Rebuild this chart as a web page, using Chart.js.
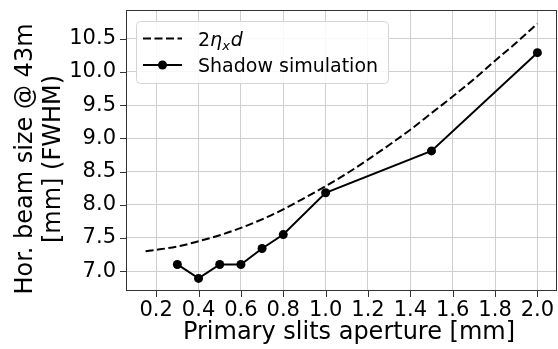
<!DOCTYPE html>
<html>
<head>
<meta charset="utf-8">
<script src="https://cdn.jsdelivr.net/npm/chart.js@4.4.1/dist/chart.umd.min.js"></script>
<style>
html,body{margin:0;padding:0;background:#fff;}
#wrap{width:558px;height:349px;position:relative;}
</style>
</head>
<body>
<div id="wrap"><canvas id="c" width="558" height="349"></canvas></div>
<script>
// ---- data ----
const theoryX = [0.15, 0.2, 0.3, 0.4, 0.5, 0.6, 0.7, 0.8, 0.9, 1.0, 1.1, 1.2, 1.3, 1.4, 1.5, 1.6, 1.7, 1.8, 1.9, 2.0];
const theoryY = [7.30, 7.32, 7.37, 7.45, 7.54, 7.65, 7.78, 7.93, 8.10, 8.28, 8.47, 8.68, 8.90, 9.13, 9.38, 9.63, 9.89, 10.17, 10.44, 10.73];
const simX = [0.3, 0.4, 0.5, 0.6, 0.7, 0.8, 1.0, 1.5, 2.0];
const simY = [7.10, 6.89, 7.10, 7.10, 7.34, 7.55, 8.18, 8.81, 10.29];
const xTicks = [0.2, 0.4, 0.6, 0.8, 1.0, 1.2, 1.4, 1.6, 1.8, 2.0];
const yTicks = [7.0, 7.5, 8.0, 8.5, 9.0, 9.5, 10.0, 10.5];
const seriesNames = ["2ηxd", "Shadow simulation"];
const xTitle = "Primary slits aperture [mm]";
const yTitle = ["Hor. beam size @ 43m", "[mm] (FWHM)"];

const FONT = "'DejaVu Sans', sans-serif";
const TICK_SIZE = 21;
const TITLE_SIZE = 24;

const frame = {
  id: 'frame',
  afterDatasetsDraw(chart) {
    const ctx = chart.ctx, a = chart.chartArea;
    const xs = chart.scales.x, ys = chart.scales.y;
    ctx.save();
    // spines
    ctx.strokeStyle = '#333';
    ctx.lineWidth = 1;
    ctx.strokeRect(Math.round(a.left) + 0.5, Math.round(a.top) + 0.5, Math.round(a.right - a.left) - 1, Math.round(a.bottom - a.top) - 1);
    // tick marks
    ctx.beginPath();
    xTicks.forEach(v => { const px = Math.round(xs.getPixelForValue(v)) + 0.5; ctx.moveTo(px, a.bottom); ctx.lineTo(px, a.bottom + 6); });
    yTicks.forEach(v => { const py = Math.round(ys.getPixelForValue(v)) + 0.5; ctx.moveTo(a.left, py); ctx.lineTo(a.left - 6, py); });
    ctx.stroke();

    // axis titles
    ctx.fillStyle = '#000';
    ctx.font = `${TITLE_SIZE}px ${FONT}`;
    ctx.textAlign = 'center';
    ctx.textBaseline = 'alphabetic';
    ctx.fillText(xTitle, 349, 339);
    const cy = 159;
    ctx.save(); ctx.translate(31.5, cy); ctx.rotate(-Math.PI / 2); ctx.fillText(yTitle[0], 0, 0); ctx.restore();
    ctx.save(); ctx.translate(59.5, cy); ctx.rotate(-Math.PI / 2); ctx.fillText(yTitle[1], 0, 0); ctx.restore();

    // legend
    const bx = 136, by = 21, bw = 252, bh = 62;
    ctx.beginPath();
    if (ctx.roundRect) ctx.roundRect(bx + 0.5, by + 0.5, bw, bh, 4); else ctx.rect(bx + 0.5, by + 0.5, bw, bh);
    ctx.fillStyle = 'rgba(255,255,255,0.85)';
    ctx.fill();
    ctx.strokeStyle = '#d4d4d4';
    ctx.lineWidth = 1;
    ctx.stroke();

    const r1 = 38.5, r2 = 65;
    ctx.strokeStyle = '#000';
    ctx.lineWidth = 2;
    ctx.setLineDash([8, 3.5]);
    ctx.beginPath(); ctx.moveTo(143, r1); ctx.lineTo(182, r1); ctx.stroke();
    ctx.setLineDash([]);
    ctx.beginPath(); ctx.moveTo(143, r2); ctx.lineTo(182, r2); ctx.stroke();
    ctx.beginPath(); ctx.arc(162.5, r2, 4.5, 0, Math.PI * 2); ctx.fillStyle = '#000'; ctx.fill();

    const LS = 19;
    ctx.textAlign = 'left';
    ctx.textBaseline = 'alphabetic';
    let tx = 198;
    const base1 = r1 + 7;
    ctx.font = `${LS}px ${FONT}`;
    ctx.fillText('2', tx, base1); tx += ctx.measureText('2').width;
    ctx.font = `italic ${LS}px ${FONT}`;
    ctx.fillText('η', tx, base1); tx += ctx.measureText('η').width;
    ctx.font = `italic ${Math.round(LS * 0.7)}px ${FONT}`;
    ctx.fillText('x', tx, base1 + 4); tx += ctx.measureText('x').width + 1;
    ctx.font = `italic ${LS}px ${FONT}`;
    ctx.fillText('d', tx, base1);
    ctx.font = `${LS}px ${FONT}`;
    ctx.fillText(seriesNames[1], 198, r2 + 7);
    ctx.restore();
  }
};

new Chart(document.getElementById('c'), {
  type: 'line',
  data: {
    datasets: [
      {
        label: seriesNames[0],
        data: theoryX.map((x, i) => ({ x, y: theoryY[i] })),
        borderColor: '#000',
        borderWidth: 2,
        borderDash: [8, 3.5],
        pointRadius: 0,
        tension: 0.4,
        cubicInterpolationMode: 'monotone',
        fill: false
      },
      {
        label: seriesNames[1],
        data: simX.map((x, i) => ({ x, y: simY[i] })),
        borderColor: '#000',
        backgroundColor: '#000',
        borderWidth: 2,
        pointRadius: 4.5,
        pointBackgroundColor: '#000',
        pointBorderWidth: 0,
        tension: 0,
        fill: false
      }
    ]
  },
  options: {
    responsive: false,
    animation: false,
    devicePixelRatio: 1,
    layout: { autoPadding: false, padding: { top: 10, right: 1, left: 0, bottom: 0 } },
    plugins: { legend: { display: false }, tooltip: { enabled: false } },
    scales: {
      x: {
        type: 'linear',
        min: 0.0575,
        max: 2.0925,
        afterBuildTicks: s => { s.ticks = xTicks.map(v => ({ value: v })); },
        afterFit: s => { s.height = 58; s.paddingLeft = 0; s.paddingRight = 0; },
        grid: { color: '#cfcfcf', lineWidth: 1, drawTicks: false },
        border: { display: false },
        ticks: {
          color: '#000',
          font: { family: FONT, size: TICK_SIZE },
          padding: 7,
          maxRotation: 0,
          autoSkip: false,
          callback: v => Number(v).toFixed(1)
        },
        title: { display: false }
      },
      y: {
        type: 'linear',
        min: 6.70,
        max: 10.933,
        afterBuildTicks: s => { s.ticks = yTicks.map(v => ({ value: v })); },
        afterFit: s => { s.width = 126; s.paddingTop = 0; s.paddingBottom = 0; },
        grid: { color: '#cfcfcf', lineWidth: 1, drawTicks: false },
        border: { display: false },
        ticks: {
          color: '#000',
          font: { family: FONT, size: TICK_SIZE },
          padding: 10,
          autoSkip: false,
          callback: v => Number(v).toFixed(1)
        }
      }
    }
  },
  plugins: [frame]
});
</script>
</body>
</html>
